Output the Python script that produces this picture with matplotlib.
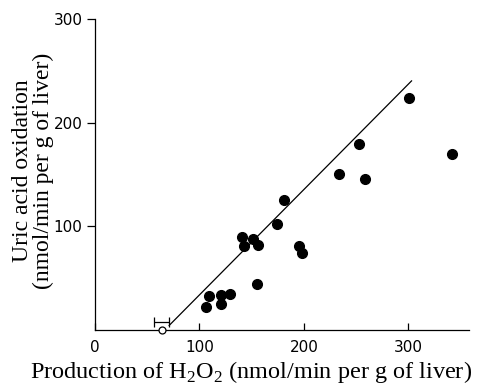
import matplotlib
matplotlib.use("Agg")
import matplotlib.pyplot as plt

# H2O2 production vs uric acid oxidation (nmol/min per g of liver)
h2o2 = [300.5, 341.3, 252.6, 233.8, 258.4, 180.9, 173.8, 141.0, 142.9, 150.9,
        155.7, 195.2, 197.8, 155.3, 109.1, 120.3, 129.5, 105.9, 120.3]
uric = [223.8, 169.9, 179.6, 150.2, 145.4, 125.1, 102.1, 89.5, 81.1, 87.6,
        81.8, 80.8, 74.7, 44.0, 32.7, 34.1, 35.0, 21.8, 25.4]

# control (open circle) and its spread
ctrl_x, ctrl_y = 63.8, 0.0
ctrl_bar_y, ctrl_err = 7.5, 7.2

# regression line end points
line_x = [71.0, 303.0]
line_y = [4.4, 240.6]

xticks = [0, 100, 200, 300]
yticks = [100, 200, 300]

plt.rcParams['mathtext.fontset'] = 'custom'
plt.rcParams['mathtext.rm'] = 'Liberation Serif'

fig = plt.figure(figsize=(4.78, 3.86), dpi=100)
ax = fig.add_axes([95/478, 1-330/386, (469-95)/478, (330-19.4)/386])

ax.plot(line_x, line_y, color='black', lw=0.9)
ax.plot(h2o2, uric, 'o', color='black', ms=7, clip_on=False)
ax.errorbar([ctrl_x], [ctrl_bar_y], xerr=[ctrl_err], fmt='none', ecolor='black',
            elinewidth=0.9, capsize=3.5, capthick=0.9)
ax.plot([ctrl_x], [ctrl_y], 'o', mfc='white', mec='black', mew=0.9, ms=5,
        clip_on=False, zorder=5)

ax.set_xlim(0, 358)
ax.set_ylim(0, 300)
ax.spines['top'].set_visible(False)
ax.spines['right'].set_visible(False)
for s in ('left', 'bottom'):
    ax.spines[s].set_linewidth(0.9)

ax.set_xticks(xticks)
ax.set_yticks(yticks)
ax.tick_params(axis='x', direction='in', length=5, width=0.9, pad=7)
ax.tick_params(axis='y', direction='out', length=6, width=0.9, pad=3)
for lab in ax.get_xticklabels() + ax.get_yticklabels():
    lab.set_fontfamily('DejaVu Sans')
    lab.set_fontsize(11)

fig.text(251/478, 1-378/386,
         r'Production of H$_2$O$_2$ (nmol/min per g of liver)',
         ha='center', va='baseline', fontsize=17.5, family='Liberation Serif')
fig.text(33/478, 1-171/386,
         'Uric acid oxidation\n(nmol/min per g of liver)',
         ha='center', va='center', rotation=90, fontsize=17,
         family='Liberation Serif', linespacing=1.0)

fig.savefig('out.png', dpi=100)
